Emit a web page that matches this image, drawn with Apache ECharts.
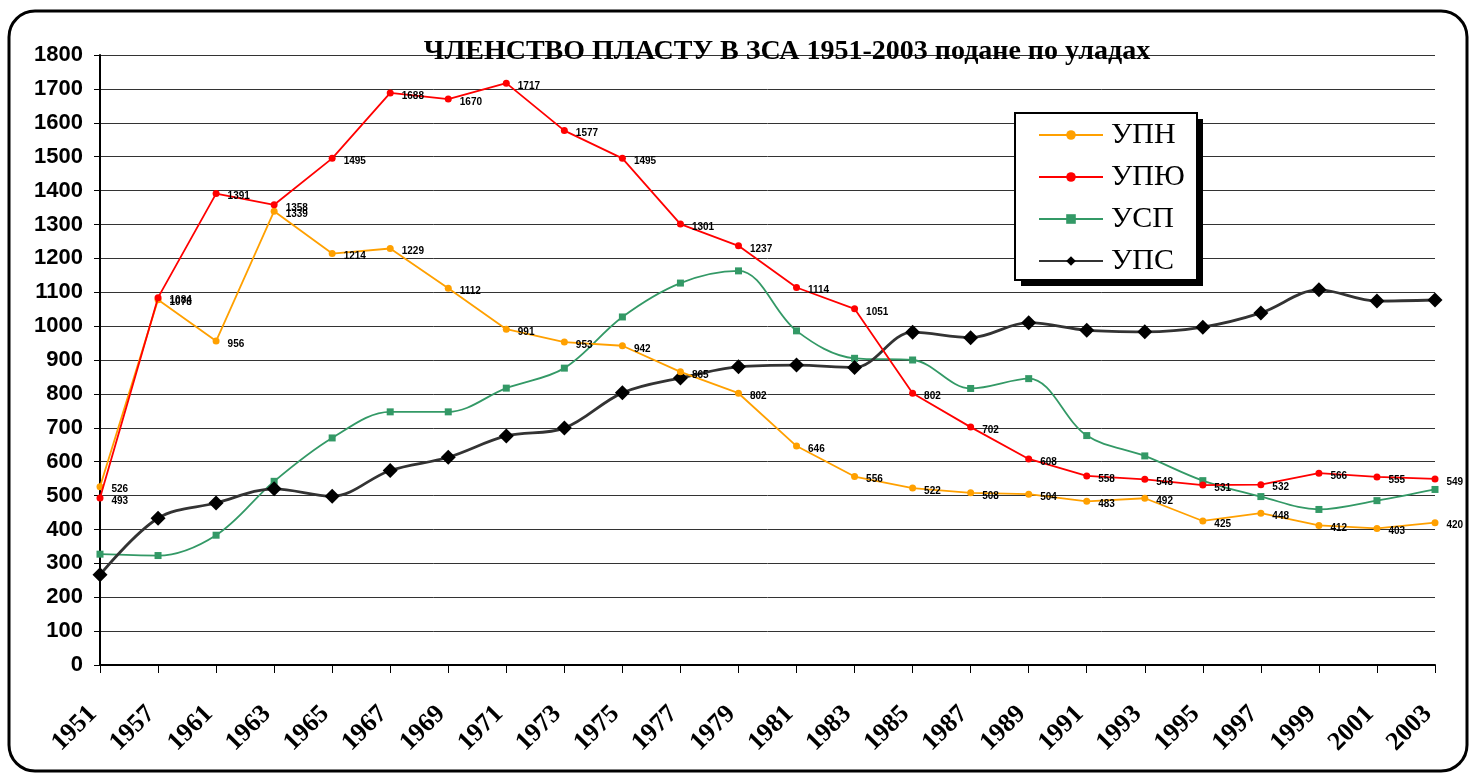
<!DOCTYPE html>
<html>
<head>
<meta charset="utf-8">
<script src="https://cdn.jsdelivr.net/npm/echarts@6/dist/echarts.min.js"></script>
<style>
  html, body { margin: 0; padding: 0; background: #fff; }
  #chart { width: 1477px; height: 774px; }
</style>
</head>
<body>
<div id="chart"></div>
<script>
const years = ['1951', '1957', '1961', '1963', '1965', '1967', '1969', '1971', '1973', '1975', '1977', '1979',
  '1981', '1983', '1985', '1987', '1989', '1991', '1993', '1995', '1997', '1999', '2001', '2003'];
// УПН
const upn = [526, 1078, 956, 1339, 1214, 1229, 1112, 991, 953, 942, 865, 802,
  646, 556, 522, 508, 504, 483, 492, 425, 448, 412, 403, 420];
// УПЮ
const upyu = [493, 1084, 1391, 1358, 1495, 1688, 1670, 1717, 1577, 1495, 1301, 1237,
  1114, 1051, 802, 702, 608, 558, 548, 531, 532, 566, 555, 549];
// УСП (no labels in the picture)
const usp = [327, 323, 383, 542, 670, 747, 747, 817, 876, 1027, 1127, 1163,
  986, 905, 900, 816, 845, 677, 617, 544, 497, 459, 485, 518];
// УПС (no labels either)
const ups = [266, 433, 478, 520, 498, 574, 613, 676, 699, 803, 847, 880,
  885, 878, 982, 966, 1010, 988, 983, 997, 1039, 1107, 1074, 1077];

const chart = echarts.init(document.getElementById('chart'));

// small condensed labels next to the points
const pointLabel = {
  show: true,
  position: 'right',
  offset: [3, 3],
  color: '#000',
  fontFamily: '"Liberation Sans Narrow", "Liberation Sans", sans-serif',
  fontWeight: 'bold',
  fontSize: 10
};

const option = {
  animation: false,
  backgroundColor: '#fff',
  title: {
    text: 'ЧЛЕНСТВО ПЛАСТУ В ЗСА 1951-2003 подане по уладах',
    left: 782,
    textAlign: 'center',
    top: 33,
    textStyle: {
      fontFamily: '"Liberation Serif", serif',
      fontWeight: 'bold',
      fontSize: 28,
      color: '#000'
    }
  },
  legend: {
    orient: 'vertical',
    left: 1016,
    top: 116,
    padding: [4, 10, 4, 22],
    itemWidth: 64,
    itemHeight: 12,
    itemGap: 12,
    textStyle: {
      fontFamily: '"Liberation Serif", serif',
      fontSize: 30,
      color: '#000',
      padding: [0, 0, 0, 3]
    },
    data: ['УПН', 'УПЮ', 'УСП', 'УПС'],
    z: 20
  },
  grid: { left: 100, right: 42, top: 55, bottom: 109, containLabel: false },
  xAxis: {
    type: 'category',
    data: years,
    boundaryGap: false,
    axisLine: { lineStyle: { color: '#000', width: 2 } },
    axisTick: { show: true, length: 8, lineStyle: { color: '#000' } },
    axisLabel: {
      rotate: 45,
      margin: 38,
      padding: [0, 10, 0, 0],
      interval: 0,
      color: '#000',
      fontFamily: '"Liberation Serif", serif',
      fontWeight: 'bold',
      fontSize: 26
    }
  },
  yAxis: {
    type: 'value',
    min: 0,
    max: 1800,
    interval: 100,
    axisLine: { show: true, lineStyle: { color: '#000', width: 2 } },
    axisTick: { show: true, length: 6, lineStyle: { color: '#000' } },
    axisLabel: {
      margin: 17,
      color: '#000',
      fontFamily: '"Liberation Sans", Arial, sans-serif',
      fontWeight: 'bold',
      fontSize: 22,
      formatter: (v) => String(v)
    },
    splitLine: { lineStyle: { color: '#333', width: 1 } }
  },
  series: [
    {
      name: 'УПН',
      type: 'line',
      data: upn,
      color: '#FFA000',
      symbol: 'circle',
      symbolSize: 7,
      lineStyle: { width: 1.8 },
      label: pointLabel,
      z: 4
    },
    {
      name: 'УПЮ',
      type: 'line',
      data: upyu,
      color: '#FF0000',
      symbol: 'circle',
      symbolSize: 7,
      lineStyle: { width: 1.8 },
      label: pointLabel,
      z: 5
    },
    {
      name: 'УСП',
      type: 'line',
      data: usp,
      color: '#339966',
      symbol: 'rect',
      symbolSize: 7,
      smooth: 0.35,
      lineStyle: { width: 1.8 },
      z: 3
    },
    {
      name: 'УПС',
      type: 'line',
      data: ups,
      color: '#000',
      symbol: 'diamond',
      symbolSize: 15,
      smooth: 0.35,
      lineStyle: { width: 2.8, color: '#333' },
      z: 3
    }
  ],
  graphic: [
    {
      // legend box shadow
      type: 'rect',
      shape: { x: 1021, y: 119, width: 182, height: 167 },
      style: { fill: '#000' },
      silent: true,
      z: 10
    },
    {
      // legend box
      type: 'rect',
      shape: { x: 1015, y: 113, width: 182, height: 167 },
      style: { fill: '#fff', stroke: '#000', lineWidth: 2 },
      silent: true,
      z: 11
    },
    {
      type: 'rect',
      shape: { x: 9, y: 11, width: 1458, height: 760, r: 26 },
      style: { fill: 'none', stroke: '#000', lineWidth: 3 },
      silent: true,
      z: 100
    }
  ]
};

chart.setOption(option);
window.addEventListener('resize', () => {
  chart.resize();
});
</script>
</body>
</html>
